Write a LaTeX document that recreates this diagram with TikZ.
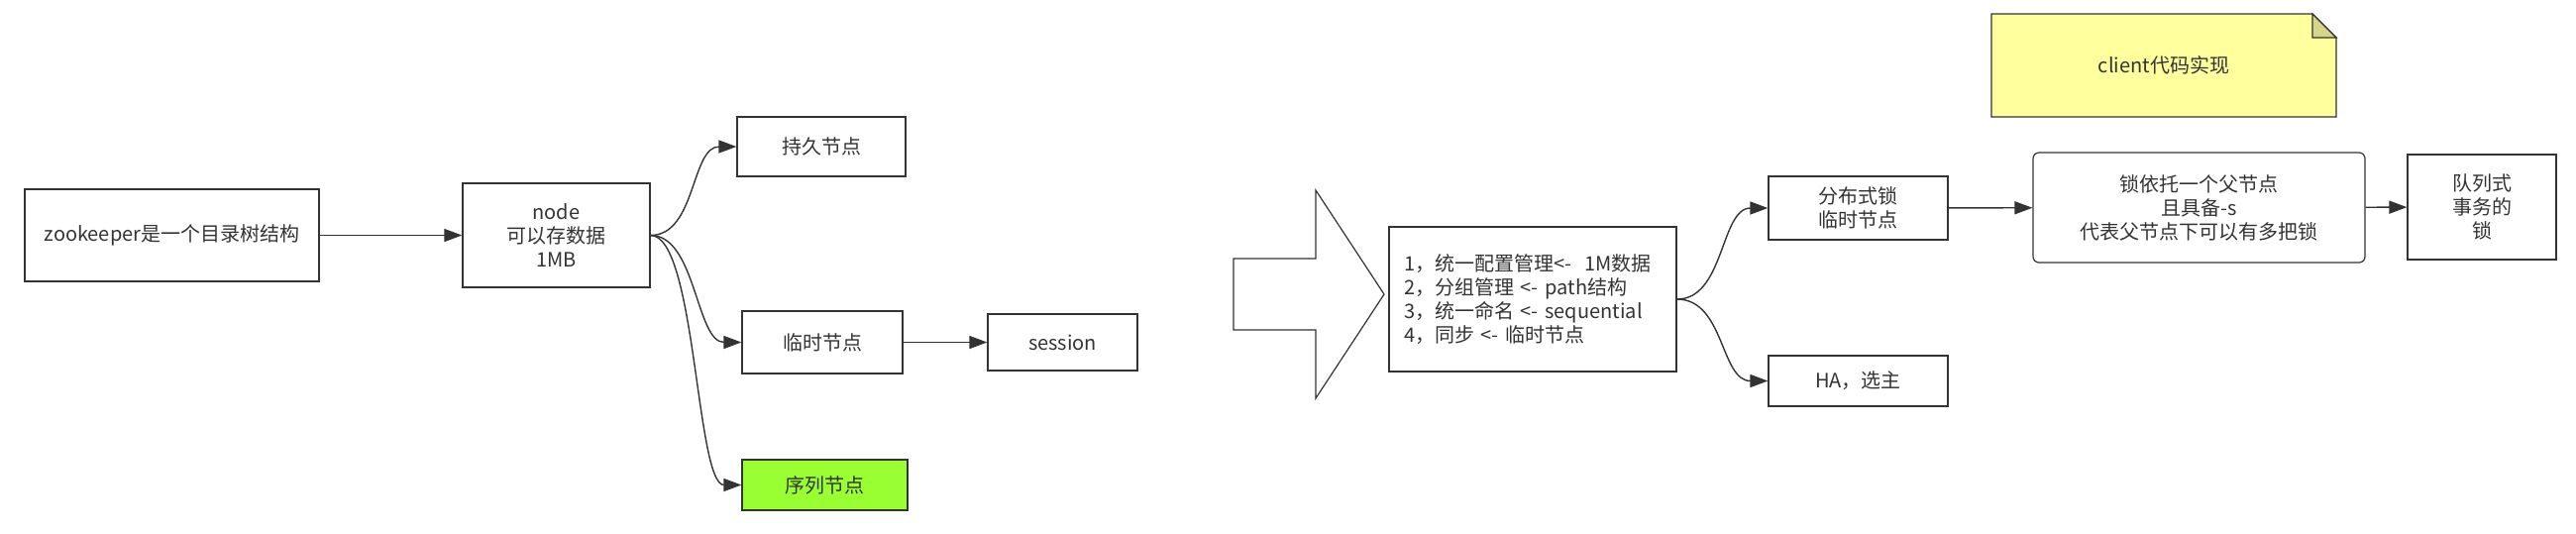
\documentclass[tikz,border=0pt]{standalone}
\usepackage{fontspec}
\setmainfont{Noto Sans CJK SC}
\usepackage{xcolor}
\usetikzlibrary{arrows.meta}

\definecolor{seqgreen}{HTML}{99FF33}
\definecolor{notefill}{HTML}{FFFF9E}
\definecolor{notefold}{HTML}{D6D68A}

\begin{document}
\begin{tikzpicture}[
  x=0.5pt, y=-0.5pt,
  font=\fontsize{10}{12}\selectfont, text=black!80,
  box/.style={draw=black!80, line width=0.6pt, align=center, inner sep=2pt},
  fl/.style={-{Triangle[length=9pt,width=6.5pt]}, draw=black!80, line width=0.7pt},
]
\useasboundingbox (0,0) rectangle (2600,538);

% ---------- node tree ----------
\node[box, minimum width=148.5pt, minimum height=46.5pt] (zk) at (173.5,237.5) {zookeeper是一个目录树结构};
\node[box, minimum width=94.5pt, minimum height=52.5pt] (nd) at (561.5,237.5) {node\\可以存数据\\1MB};
\node[box, minimum width=85pt, minimum height=30pt] (persist) at (829,148) {持久节点};
\node[box, minimum width=81pt, minimum height=31.5pt] (ephem) at (830,345.5) {临时节点};
\node[box, minimum width=75.5pt, minimum height=28.5pt] (sess) at (1072.5,345.5) {session};
\node[box, fill=seqgreen, minimum width=83.5pt, minimum height=25.5pt] (seq) at (832.5,489.5) {序列节点};

\draw[fl] (zk) -- (nd);
\foreach \t in {persist,ephem,seq}
  \draw[fl] (nd.east) .. controls +(46,0) and +(-46,0) .. (\t.west);
\draw[fl] (ephem) -- (sess);

% ---------- big arrow ----------
\draw[draw=black!80, line width=0.6pt]
  (1245,261) -- (1328,261) -- (1328,192) -- (1397,297) -- (1328,402) -- (1328,333) -- (1245,333) -- cycle;

% ---------- uses ----------
\node[box, align=left, text width=130pt, inner xsep=7.5pt, minimum height=73pt] (uses) at (1547,302)
  {1，统一配置管理<-\ \ 1M数据\\2，分组管理 <- path结构\\3，统一命名 <- sequential\\4，同步 <- 临时节点};
\node[box, minimum width=90.5pt, minimum height=32pt] (lock) at (1875.5,210) {分布式锁\\临时节点};
\node[box, minimum width=90.5pt, minimum height=25.5pt] (ha) at (1875.5,384.5) {HA，选主};
\node[box, rounded corners=3pt, minimum width=167.5pt, minimum height=55.5pt] (parent) at (2219.5,209.5)
  {锁依托一个父节点\\且具备-s\\代表父节点下可以有多把锁};
\node[box, minimum width=75pt, minimum height=53pt] (queue) at (2505,209) {队列式\\事务的\\锁};

\foreach \t in {lock,ha}
  \draw[fl] (uses.east) .. controls +(48,0) and +(-48,0) .. (\t.west);
\foreach \a/\b in {lock/parent,parent/queue} \draw[fl] (\a) -- (\b);

% ---------- note ----------
\draw[draw=black!80, line width=0.6pt, fill=notefill]
  (2010,14) -- (2334,14) -- (2358,38) -- (2358,118) -- (2010,118) -- cycle;
\draw[draw=black!80, line width=0.6pt, fill=notefold]
  (2334,14) -- (2334,38) -- (2358,38) -- cycle;
\node (note) at (2184,66) {client代码实现};

\end{tikzpicture}
\end{document}
